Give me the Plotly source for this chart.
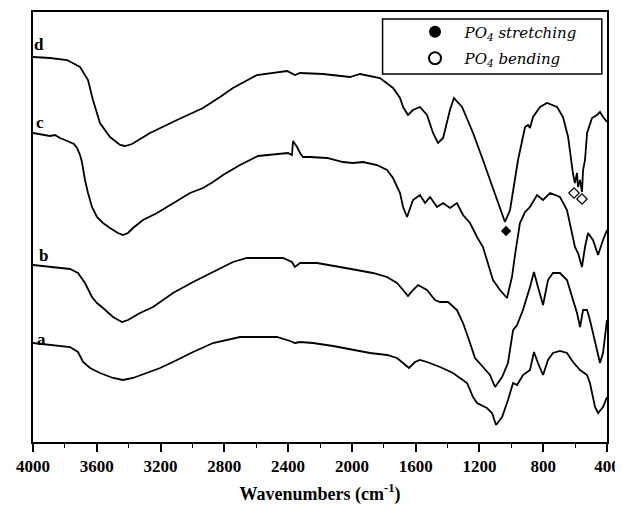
import plotly.graph_objects as go

# ---- data (wavenumber in cm-1, transmittance in arbitrary units, curves offset) ----
wn_d = [4000, 3893, 3787, 3705, 3655, 3624, 3580, 3517, 3454, 3423, 3379, 3266, 3097, 2934, 2827, 2746,
        2595, 2451, 2407, 2357, 2325, 2181, 2012, 1949, 1824, 1742, 1698, 1679, 1648, 1617, 1573, 1529,
        1491, 1460, 1428, 1385, 1360, 1309, 1240, 1178, 1134, 1090, 1040, 1008, 977, 958, 914, 895, 883,
        864, 820, 776, 713, 676, 644, 632, 613, 601, 588, 582, 569, 557, 550, 538, 525, 494, 463, 444, 425, 400]
t_d = [385, 384, 382, 375, 362, 342, 319, 305, 297, 296, 298, 309, 322, 334, 345, 354,
       367, 370, 371, 367, 369, 368, 365, 368, 364, 354, 344, 335, 327, 332, 335, 327,
       309, 299, 304, 332, 344, 335, 309, 282, 262, 242, 220, 232, 262, 282, 315, 317, 314,
       325, 335, 339, 335, 325, 305, 290, 268, 259, 269, 255, 262, 250, 272, 282, 309, 324, 327, 330, 325, 320]

wn_c = [4000, 3956, 3893, 3862, 3831, 3799, 3768, 3743, 3724, 3705, 3693, 3674, 3655, 3630, 3599, 3561,
        3517, 3467, 3436, 3404, 3373, 3310, 3222, 3122, 3015, 2934, 2871, 2808, 2702, 2589, 2451, 2401,
        2376, 2369, 2357, 2344, 2325, 2307, 2263, 2156, 2056, 1993, 1930, 1842, 1780, 1742, 1698, 1679,
        1654, 1617, 1573, 1541, 1510, 1466, 1428, 1385, 1341, 1303, 1259, 1215, 1178, 1153, 1115, 1071,
        1027, 1008, 996, 977, 946, 914, 883, 839, 801, 757, 695, 651, 619, 601, 582, 557, 538, 519, 488,
        456, 425, 400]
t_c = [309, 308, 306, 307, 304, 302, 300, 298, 294, 287, 280, 262, 249, 235, 225, 219,
       214, 209, 207, 209, 214, 222, 229, 239, 249, 254, 260, 267, 277, 286, 288, 289,
       287, 301, 298, 295, 289, 285, 285, 284, 280, 279, 280, 277, 272, 264, 249, 235,
       225, 242, 247, 239, 245, 235, 239, 234, 239, 227, 219, 205, 195, 182, 162, 152,
       144, 157, 165, 187, 219, 230, 235, 247, 242, 249, 245, 232, 209, 195, 189, 175, 195, 209, 202,
       187, 202, 212]

wn_b = [4000, 3893, 3768, 3718, 3674, 3630, 3599, 3561, 3498, 3442, 3404, 3329, 3247, 3122, 2996, 2871,
        2746, 2658, 2532, 2432, 2376, 2357, 2325, 2219, 2075, 1968, 1868, 1780, 1717, 1679, 1648, 1617,
        1585, 1529, 1479, 1447, 1397, 1341, 1303, 1259, 1228, 1178, 1134, 1102, 1058, 1021, 989, 964,
        927, 883, 858, 833, 801, 770, 739, 695, 651, 613, 588, 569, 550, 525, 507, 463, 444, 425, 400]
t_b = [177, 175, 173, 169, 159, 145, 139, 134, 125, 120, 122, 129, 135, 149, 160, 170,
       180, 184, 184, 184, 180, 175, 179, 179, 175, 172, 169, 165, 159, 152, 146, 152,
       157, 152, 142, 140, 140, 132, 119, 99, 84, 75, 67, 55, 65, 79, 112, 117,
       132, 155, 170, 155, 137, 162, 169, 169, 162, 142, 129, 115, 132, 132, 122, 92, 79, 89, 122]

wn_a = [4000, 3893, 3768, 3718, 3686, 3642, 3580, 3498, 3436, 3373, 3285, 3203, 3097, 2996, 2871, 2783,
        2702, 2576, 2470, 2388, 2357, 2325, 2244, 2118, 1993, 1886, 1780, 1717, 1679, 1642, 1604, 1573,
        1529, 1447, 1366, 1278, 1240, 1215, 1153, 1121, 1096, 1058, 1021, 989, 964, 927, 883, 858, 833,
        801, 770, 739, 695, 651, 613, 569, 525, 507, 475, 456, 425, 400]
t_a = [99, 97, 95, 90, 80, 74, 69, 64, 62, 64, 69, 74, 82, 90, 99, 102,
       105, 105, 105, 101, 99, 100, 99, 96, 92, 89, 87, 84, 79, 74, 80, 82,
       80, 75, 69, 59, 45, 39, 34, 29, 17, 25, 42, 59, 57, 67, 72, 90, 79,
       67, 82, 89, 91, 89, 80, 72, 67, 59, 35, 29, 35, 45]

# PO4 band markers
stretch_wn = [1033]
stretch_t = [211]
bend_wn = [607, 557]
bend_t = [249, 243]

curve_labels = ["a", "b", "c", "d"]
label_wn = [3944, 3937, 3956, 3962]
label_t = [103, 187, 320, 398]

xticks = [4000, 3600, 3200, 2800, 2400, 2000, 1600, 1200, 800, 400]

fig = go.Figure()
for wn, t in [(wn_a, t_a), (wn_b, t_b), (wn_c, t_c), (wn_d, t_d)]:
    fig.add_trace(go.Scatter(x=wn, y=t, mode="lines", line=dict(color="black", width=1.8),
                             showlegend=False, hoverinfo="skip"))

fig.add_trace(go.Scatter(x=stretch_wn, y=stretch_t, mode="markers",
                         marker=dict(symbol="diamond", size=8, color="black"), showlegend=False))
fig.add_trace(go.Scatter(x=bend_wn, y=bend_t, mode="markers",
                         marker=dict(symbol="diamond-open", size=8, color="black", line=dict(width=1.2)),
                         showlegend=False))

# legend entries (circles as in the reference legend)
fig.add_trace(go.Scatter(x=[None], y=[None], mode="markers",
                         name="&nbsp;&nbsp;<i>PO<sub>4</sub> stretching</i>",
                         marker=dict(symbol="circle", size=8, color="black"), legendgroup="s"))
fig.add_trace(go.Scatter(x=[None], y=[None], mode="markers",
                         name="&nbsp;&nbsp;<i>PO<sub>4</sub> bending</i>",
                         marker=dict(symbol="circle-open", size=6, color="black", line=dict(width=1.5)),
                         legendgroup="b"))

for lab, x, y in zip(curve_labels, label_wn, label_t):
    fig.add_annotation(x=x, y=y, text="<b>%s</b>" % lab, showarrow=False,
                       font=dict(family="Liberation Serif", size=17, color="black"))

# legend frame
fig.add_shape(type="rect", xref="paper", yref="paper", x0=0.609, x1=0.991, y0=0.856, y1=0.984,
              line=dict(color="black", width=1.5), fillcolor="rgba(0,0,0,0)")

fig.update_layout(
    width=615, height=505,
    margin=dict(l=25, r=16, t=4, b=71, autoexpand=False),
    paper_bgcolor="white", plot_bgcolor="white",
    showlegend=True,
    legend=dict(x=0.6655, y=0.992, xanchor="left", yanchor="top", bgcolor="rgba(0,0,0,0)",
                font=dict(family="DejaVu Serif", size=15, color="black"),
                tracegroupgap=4, itemsizing="constant"),
    xaxis=dict(range=[4000, 400], tickvals=xticks, ticktext=[str(v) for v in xticks],
               automargin=False,
               showline=True, mirror=True, linecolor="black", linewidth=1.8,
               ticks="outside", ticklen=8, tickwidth=1.5, tickcolor="black",
               minor=dict(dtick=200, tick0=0, ticks="outside", ticklen=4, tickwidth=1.2, tickcolor="black"),
               showgrid=False, zeroline=False,
               tickfont=dict(family="Liberation Serif", size=17, color="black", weight="bold"),
               title=dict(text="<b>Wavenumbers (cm<sup>-1</sup>)</b>", standoff=12,
                          font=dict(family="Liberation Serif", size=18, color="black"))),
    yaxis=dict(range=[0, 430], automargin=False, showline=True, mirror=True, linecolor="black", linewidth=1.8,
               showticklabels=False, ticks="", showgrid=False, zeroline=False),
)

fig.write_html("out.html")
